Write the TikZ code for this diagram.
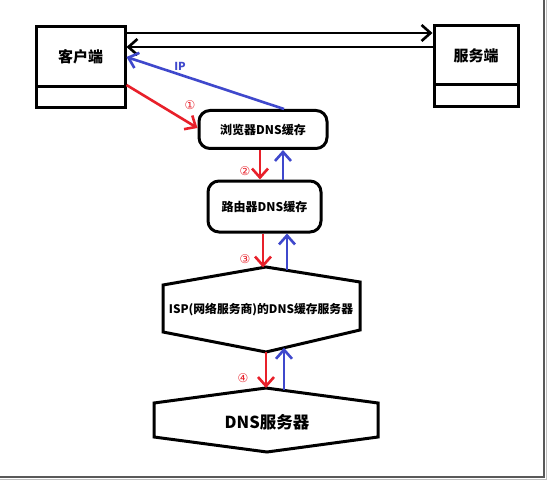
\documentclass[tikz,border=0pt]{standalone}
\usepackage{fontspec}
\newfontfamily\cjk{Noto Sans CJK SC}
\newfontfamily\sym{DejaVu Sans}
\usetikzlibrary{arrows.meta}
\definecolor{pred}{HTML}{E8202A}
\definecolor{pblue}{HTML}{3F48CC}
\begin{document}
\begin{tikzpicture}[x=1pt,y=-1pt,line join=miter,
  box/.style={draw,line width=3pt,rectangle,inner sep=0pt},
  rbox/.style={draw,line width=3pt,rectangle,rounded corners=11pt,inner sep=0pt},
  hexa/.style={draw,line width=3pt},
  tip/.style={line width=2.6pt,-{Straight Barb[length=9pt,width=16pt]}},
  redarr/.style={tip,draw=pred},
  bluearr/.style={tip,draw=pblue},
  num/.style={text=pred,font=\sym\fontsize{12}{12}\selectfont,inner sep=0pt}]
\useasboundingbox (0,0) rectangle (548,481);
\fill[white] (0,0) rectangle (548,481);
% frame shadow
\draw[line width=2pt,black!65] (544,0) -- (544,477) -- (0,477);
\draw[line width=1.2pt,black!25] (546.2,0) -- (546.2,479.2) -- (0,479.2);

% client and server boxes
\node[box,minimum width=89pt,minimum height=60pt,font=\cjk\bfseries\fontsize{15}{15}\selectfont] (clientTop) at (80.5,57) {客户端};
\node[box,minimum width=89pt,minimum height=21pt] (clientBot) at (80.5,97.5) {};
\node[box,minimum width=84pt,minimum height=59pt,font=\cjk\bfseries\fontsize{15}{15}\selectfont] (serverTop) at (476,55.5) {服务端};
\node[box,minimum width=84pt,minimum height=22pt] (serverBot) at (476,96) {};

% browser and router
\node[rbox,minimum width=128pt,minimum height=38pt,font=\cjk\bfseries\fontsize{12}{12}\selectfont] (browser) at (263,129.5) {浏览器DNS缓存};
\node[rbox,minimum width=113pt,minimum height=51pt,font=\cjk\bfseries\fontsize{12}{12}\selectfont] (router) at (264.5,206.5) {路由器DNS缓存};

% ISP hexagon
\coordinate (ispT) at (266,267);
\coordinate (ispUL) at (163,285);
\coordinate (ispLL) at (163,332);
\coordinate (ispB) at (266,352);
\coordinate (ispLR) at (360,330);
\coordinate (ispUR) at (360,282);
\draw[hexa] (ispT) -- (ispUL) -- (ispLL) -- (ispB) -- (ispLR) -- (ispUR) -- cycle;
\node[font=\cjk\bfseries\fontsize{11.8}{11.8}\selectfont,inner sep=0pt] (isp) at (261,310) {ISP(网络服务商)的DNS缓存服务器};

% DNS server hexagon
\coordinate (dnsT) at (266,388);
\coordinate (dnsUL) at (154,403);
\coordinate (dnsLL) at (154,437);
\coordinate (dnsB) at (267,452);
\coordinate (dnsLR) at (378,437);
\coordinate (dnsUR) at (378,403);
\draw[hexa] (dnsT) -- (dnsUL) -- (dnsLL) -- (dnsB) -- (dnsLR) -- (dnsUR) -- cycle;
\node[font=\cjk\bfseries\fontsize{16.5}{16.5}\selectfont,inner sep=0pt] (dns) at (267,422) {DNS服务器};

% arrow end points on the hexagon edges
\coordinate (ispTr) at (263,267.5);
\coordinate (ispTb) at (287,270.4);
\coordinate (ispBb) at (284,347.8);
\coordinate (dnsTb) at (284,390.4);

% client <-> server
\draw[tip,black] (clientTop.east |- 0,33) -- (serverTop.west |- 0,33);
\draw[tip,black] (serverTop.west |- 0,47) -- (clientTop.east |- 0,47);

% IP reply
\draw[bluearr] (browser.north -| 284,0) -- (clientTop.east |- 0,57);
\node[text=pblue,font=\cjk\bfseries\fontsize{11}{11}\selectfont] (ip) at (180,66) {IP};

% step 1
\draw[redarr] (clientTop.east |- 0,85) -- (browser.west |- 0,128);
\node[num] (n1) at (190,105) {①};

% step 2
\draw[redarr] (browser.south -| 260,0) -- (router.north -| 260,0);
\draw[bluearr] (router.north -| 283,0) -- (browser.south -| 283,0);
\node[num] (n2) at (245,171) {②};

% step 3
\draw[redarr] (router.south -| 263,0) -- (ispTr);
\draw[bluearr] (ispTb) -- (router.south -| 287,0);
\node[num] (n3) at (245,259) {③};

% step 4
\draw[redarr] (ispB) -- (dnsT);
\draw[bluearr] (dnsTb) -- (ispBb);
\node[num] (n4) at (243,378) {④};
\end{tikzpicture}
\end{document}
